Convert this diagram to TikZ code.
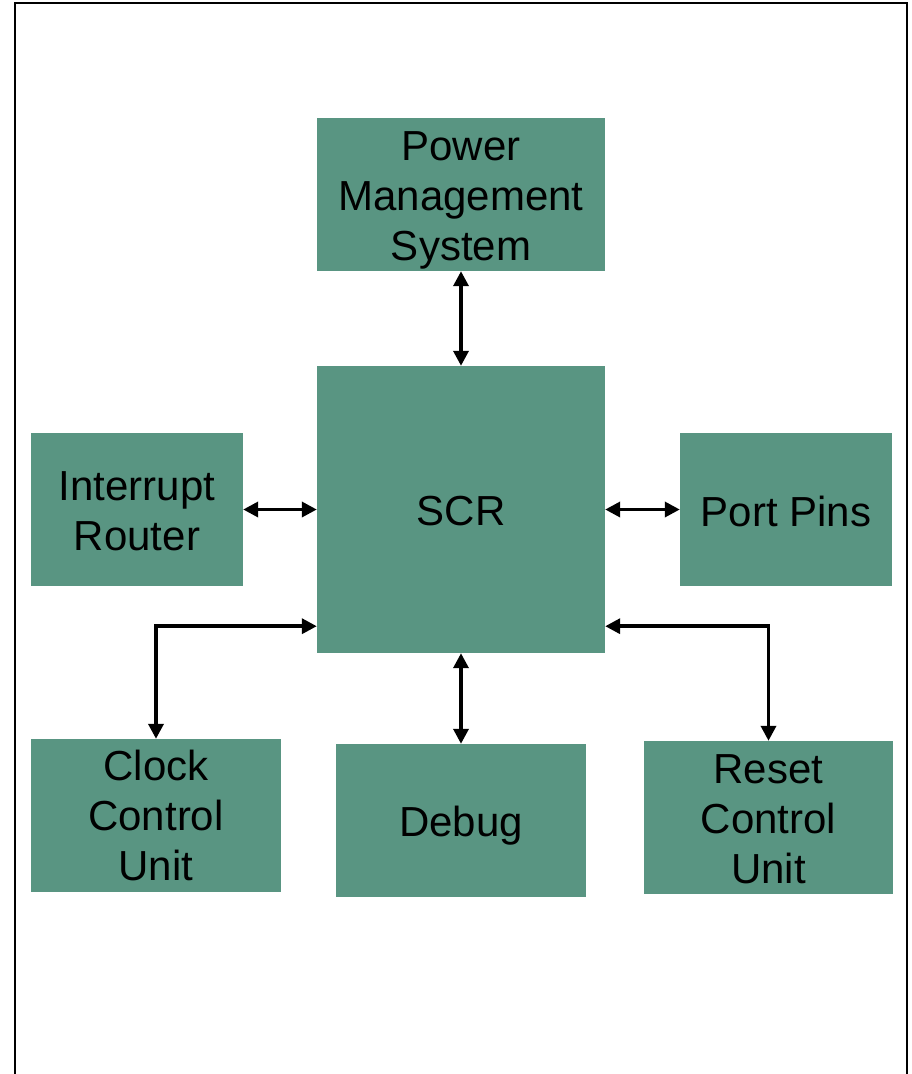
\documentclass[tikz,border=0pt]{standalone}
\usepackage{fontspec}
\setmainfont{Liberation Sans}
\usetikzlibrary{arrows.meta}
\definecolor{boxgreen}{RGB}{89,149,130}
\tikzset{
  blk/.style={fill=boxgreen, draw=none, inner sep=0pt},
  txt/.style={align=center, inner sep=0pt, font=\fontsize{42}{50}\selectfont},
  arr/.style={line width=3.5pt, {Triangle[length=15pt,width=15pt]}-{Triangle[length=15pt,width=15pt]}}
}
\begin{document}
\begin{tikzpicture}[x=1pt,y=-1pt]
\useasboundingbox (0,0) rectangle (912,1074);
\draw[line width=2.2pt] (15,1080) -- (15,3) -- (907,3) -- (907,1080);
\node[blk, minimum width=288pt, minimum height=153pt, label={[txt,yshift=-6pt]center:{Power\\Management\\System}}] (pms) at (461,194.5) {};
\node[blk, minimum width=288pt, minimum height=287pt, label={[txt,yshift=-2pt]center:SCR}] (scr) at (461,509.5) {};
\node[blk, minimum width=212pt, minimum height=153pt, label={[txt,yshift=-2pt]center:{Interrupt\\Router}}] (ir) at (137,509.5) {};
\node[blk, minimum width=212pt, minimum height=153pt, label={[txt,yshift=-2pt]center:Port Pins}] (pp) at (786,509.5) {};
\node[blk, minimum width=250pt, minimum height=153pt, label={[txt]center:{Clock\\Control\\Unit}}] (ccu) at (156,815.5) {};
\node[blk, minimum width=250pt, minimum height=153pt, label={[txt,yshift=-5pt]center:Debug}] (dbg) at (461,820.5) {};
\node[blk, minimum width=249pt, minimum height=153pt, label={[txt,yshift=-2pt]center:{Reset\\Control\\Unit}}] (rcu) at (768.5,817.5) {};
\draw[arr] (pms.south) -- (scr.north);
\draw[arr] (ir.east) -- (scr.west);
\draw[arr] (pp.west) -- (scr.east);
\draw[arr] (dbg.north) -- (scr.south);
\draw[arr] ([yshift=27pt]scr.south west) -| (ccu.north);
\draw[arr] ([yshift=27pt]scr.south east) -| (rcu.north);
\end{tikzpicture}
\end{document}
